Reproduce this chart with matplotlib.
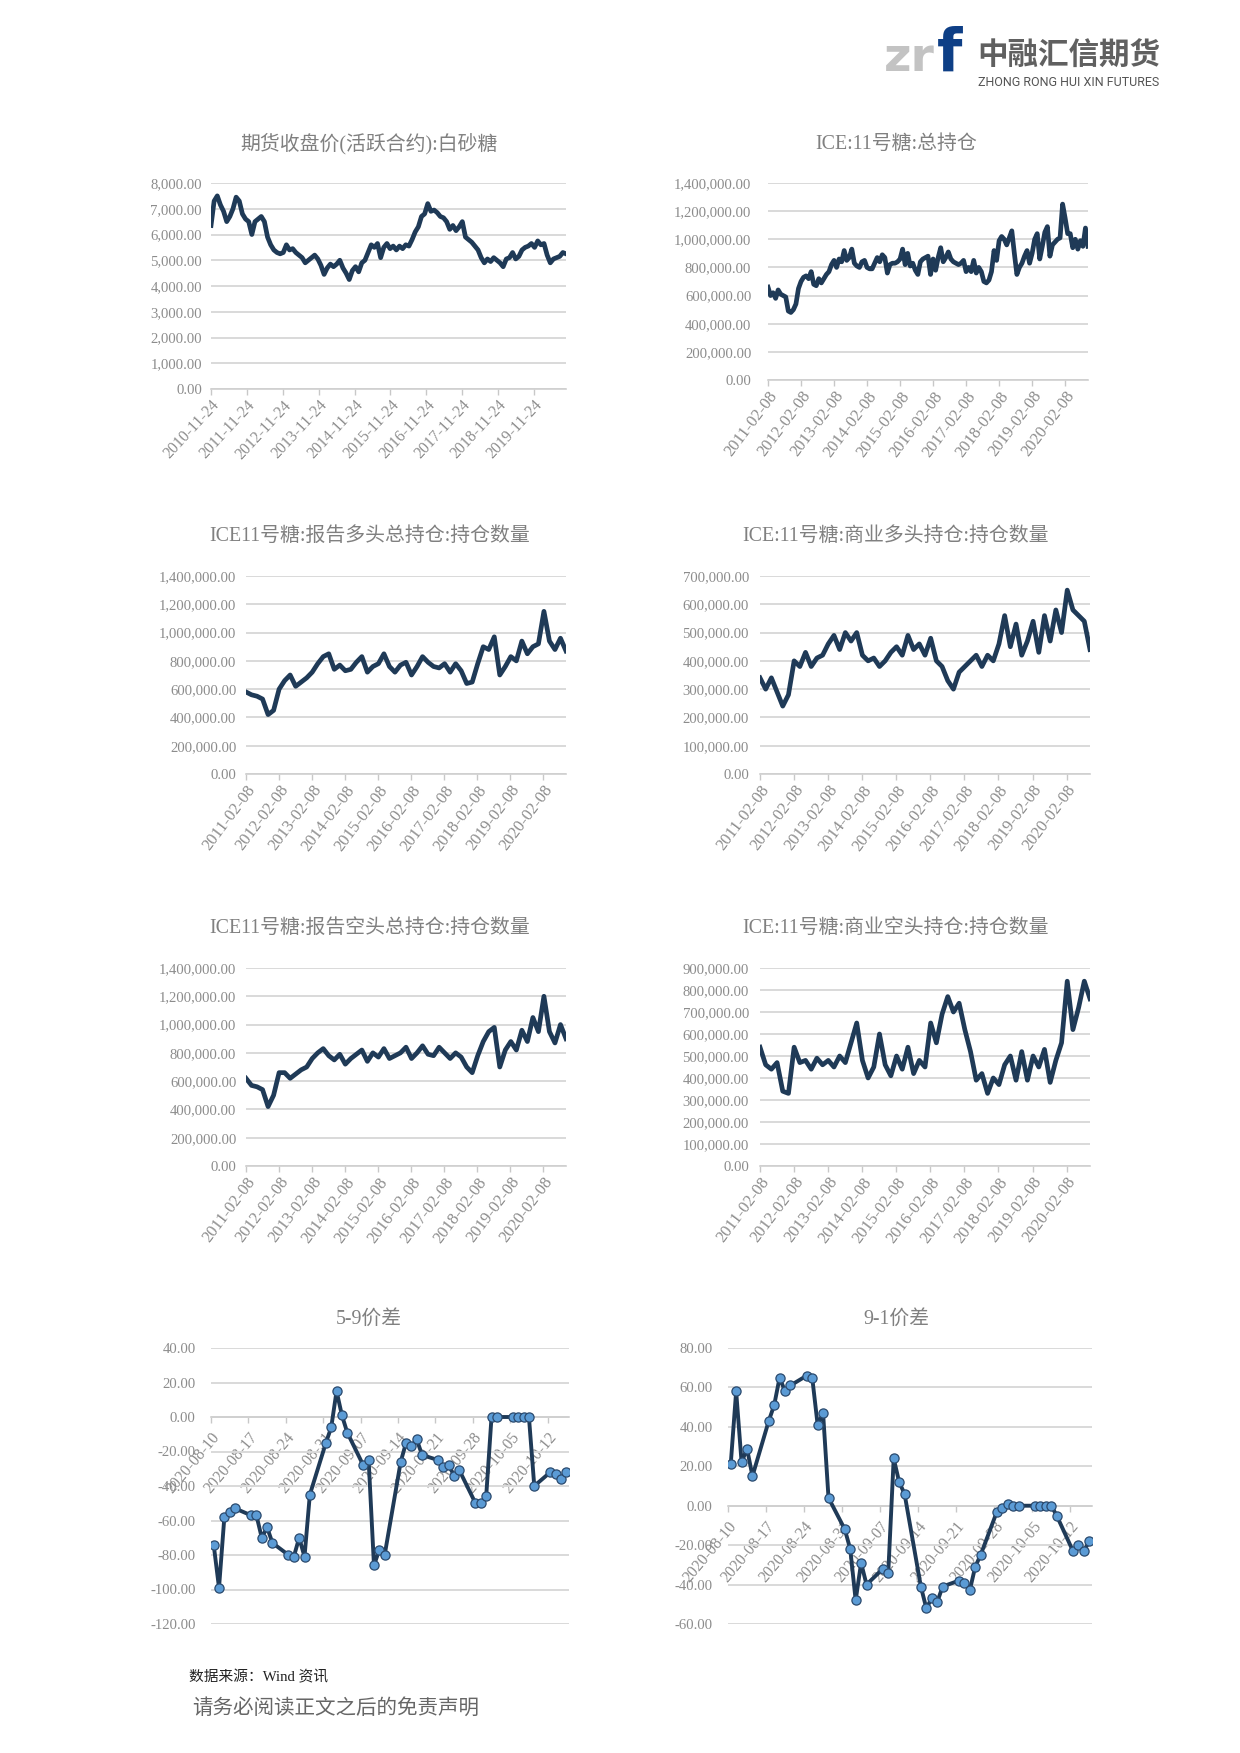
import numpy as np
import pandas as pd
import matplotlib
matplotlib.use("Agg")
import matplotlib.pyplot as plt

plt.rcParams['font.family'] = ['Liberation Serif', 'Noto Sans CJK SC', 'DejaVu Sans']

# ---------------- DATA ----------------
# 1. 期货收盘价(活跃合约):白砂糖 (yuan/ton), 2010-11-24 .. 2020-10
sugar_start, sugar_end = '2010-11-24', '2020-10-16'
sugar_price = [6350, 7300, 7500, 7150, 6900, 6500, 6700, 7000, 7450, 7300, 6800, 6600,
               6500, 6000, 6500, 6600, 6700, 6500, 5900, 5600, 5400, 5300, 5250, 5300,
               5600, 5400, 5450, 5300, 5200, 5100, 4900, 5000, 5100, 5200, 5050, 4800,
               4450, 4700, 4850, 4750, 4850, 5000, 4700, 4500, 4250, 4600, 4750, 4550,
               4900, 5000, 5300, 5600, 5500, 5650, 5100, 5500, 5650, 5450, 5550, 5400,
               5550, 5450, 5600, 5550, 5800, 6100, 6300, 6700, 6800, 7200, 6900, 6950,
               6850, 6700, 6650, 6500, 6200, 6350, 6150, 6300, 6500, 5900, 5800, 5700,
               5550, 5400, 5100, 4900, 5050, 4950, 5100, 5000, 4900, 4750, 5050, 5100,
               5300, 5050, 5150, 5400, 5500, 5550, 5650, 5500, 5750, 5600, 5650, 5200,
               4900, 5050, 5100, 5150, 5300, 5250]
sugar_ticks = ['2010-11-24', '2011-11-24', '2012-11-24', '2013-11-24', '2014-11-24',
               '2015-11-24', '2016-11-24', '2017-11-24', '2018-11-24', '2019-11-24']

# ICE series span
ice_start, ice_end = '2011-02-08', '2020-10-16'
ice_ticks = ['2011-02-08', '2012-02-08', '2013-02-08', '2014-02-08', '2015-02-08',
             '2016-02-08', '2017-02-08', '2018-02-08', '2019-02-08', '2020-02-08']

# 2. ICE:11号糖:总持仓 (thousand lots)
ice_total_oi_k = [660, 600, 620, 580, 640, 610, 600, 590, 490, 480, 500, 540,
                  650, 700, 730, 740, 720, 770, 680, 670, 720, 690, 720, 750,
                  770, 820, 850, 800, 860, 840, 920, 850, 870, 930, 830, 810,
                  800, 840, 850, 800, 790, 790, 830, 870, 840, 890, 870, 760,
                  820, 830, 830, 840, 860, 930, 820, 900, 810, 830, 780, 750,
                  840, 860, 870, 880, 750, 860, 780, 870, 940, 840, 870, 910,
                  860, 840, 830, 820, 830, 850, 770, 800, 770, 850, 760, 800,
                  770, 700, 690, 710, 770, 920, 850, 990, 1020, 1000, 960, 1010,
                  1060, 900, 750, 800, 830, 880, 920, 830, 900, 1000, 1040, 860,
                  950, 1050, 1090, 880, 960, 980, 1000, 1010, 1250, 1150, 1040, 1040,
                  940, 1000, 930, 990, 950, 1080, 950]

# 3. ICE11号糖:报告多头总持仓:持仓数量 (thousand lots)
rep_long_k = [580, 560, 550, 530, 420, 450, 600, 660, 700, 620, 650, 680,
              720, 780, 830, 850, 740, 770, 730, 740, 790, 830, 720, 760,
              780, 850, 760, 720, 770, 790, 700, 760, 830, 790, 760, 750,
              780, 720, 780, 730, 640, 650, 780, 900, 880, 970, 700, 760,
              830, 800, 940, 850, 900, 920, 1150, 940, 880, 960, 870]

# 4. ICE:11号糖:商业多头持仓:持仓数量 (thousand lots)
comm_long_k = [340, 300, 340, 290, 240, 280, 400, 380, 430, 380, 410, 420,
               460, 490, 440, 500, 470, 500, 420, 400, 410, 380, 400, 430,
               450, 420, 490, 440, 460, 420, 480, 400, 380, 330, 300, 360,
               380, 400, 420, 380, 420, 400, 460, 560, 450, 530, 420, 470,
               540, 430, 560, 470, 580, 500, 650, 580, 560, 540, 440]

# 5. ICE11号糖:报告空头总持仓:持仓数量 (thousand lots)
rep_short_k = [620, 570, 560, 540, 420, 500, 660, 660, 620, 650, 680, 700,
               760, 800, 830, 780, 750, 790, 720, 760, 790, 820, 740, 800,
               770, 830, 760, 780, 800, 840, 760, 800, 850, 790, 780, 840,
               800, 760, 800, 770, 700, 660, 780, 880, 950, 980, 700, 820,
               880, 820, 960, 880, 1050, 950, 1200, 950, 870, 1000, 900]

# 6. ICE:11号糖:商业空头持仓:持仓数量 (thousand lots)
comm_short_k = [540, 460, 440, 470, 340, 330, 540, 470, 480, 440, 490, 460,
                480, 450, 500, 470, 560, 650, 480, 400, 450, 600, 460, 410,
                500, 440, 540, 420, 480, 450, 650, 560, 690, 770, 700, 740,
                620, 520, 390, 420, 330, 400, 370, 460, 500, 390, 520, 390,
                500, 450, 530, 380, 480, 560, 840, 620, 720, 840, 760]

# 7/8. Daily spreads 2020-08-10 .. 2020-10-15 (trading days)
spread_start, spread_end = '2020-08-10', '2020-10-15'
spread_59 = [-74, -99, -58, -55, -53,
             -57, -57, -70, -64, -73,
             -80, -81, -70, -81, -45,
             -15, -6, 15, 1, -9,
             -28, -25, -86, -77, -80,
             -26, -15, -17, -13, -22,
             -25, -29, -28, -34, -31,
             -50, -50, -46, 0, 0,
             0, 0, 0, 0, -40,
             -32, -33, -36, -32]
spread_91 = [21, 58, 22, 29, 15,
             43, 51, 65, 58, 61,
             66, 65, 41, 47, 4,
             -12, -22, -48, -29, -40,
             -32, -34, 24, 12, 6,
             -41, -52, -47, -49, -41,
             -38, -39, -43, -31, -25,
             -3, -1, 1, 0, 0,
             0, 0, 0, 0, -5,
             -23, -20, -23, -18]
spread_ticks = ['2020-08-10', '2020-08-17', '2020-08-24', '2020-08-31', '2020-09-07',
                '2020-09-14', '2020-09-21', '2020-09-28', '2020-10-05', '2020-10-12']

# ---------------- STYLE ----------------
LINE = '#1f3a57'
MFACE = '#5b9bd5'
GRID = '#d9d9d9'
TXT = '#8c8c8c'
TITLE = '#808080'
W, H = 1240, 1753

fig = plt.figure(figsize=(W / 100, H / 100), dpi=100)


def rect(l, t, r, b):
    return [l / W, 1 - b / H, (r - l) / W, (b - t) / H]


def common(ax, ypad, xsize, xpad):
    ax.set_axisbelow(True)
    ax.grid(axis='y', color=GRID, lw=1.4)
    ax.grid(axis='x', visible=False)
    for s in ('left', 'top', 'right'):
        ax.spines[s].set_visible(False)
    ax.spines['bottom'].set_color('#cfcfcf')
    ax.spines['bottom'].set_linewidth(1.2)
    ax.tick_params(axis='y', length=0, pad=ypad, labelsize=10.6, labelcolor=TXT)
    ax.tick_params(axis='x', length=4, width=1, color='#c8c8c8', pad=xpad,
                   labelsize=xsize, labelcolor=TXT)
    ax.set_facecolor('none')


def ts_chart(r, start, end, values, ymax, ystep, ticks, ypad, rot, xsize):
    ax = fig.add_axes(rect(*r))
    dates = pd.date_range(start, end, periods=len(values))
    ax.plot(dates, values, color=LINE, lw=3.4, solid_joinstyle='round', zorder=3)
    ax.set_xlim(pd.Timestamp(start), pd.Timestamp(end))
    ax.set_ylim(0, ymax)
    yt = np.arange(0, ymax + 1, ystep)
    ax.set_yticks(yt)
    ax.set_yticklabels([f'{v:,.2f}' for v in yt])
    ax.set_xticks(pd.to_datetime(ticks))
    ax.set_xticklabels(ticks, rotation=rot, ha='right', va='top', rotation_mode='anchor')
    common(ax, ypad, xsize, 2)
    return ax


def spread_chart(r, values, ymin, ymax, ystep, ypad):
    ax = fig.add_axes(rect(*r))
    ax.spines['bottom'].set_position(('data', 0))
    days = pd.bdate_range(spread_start, spread_end) + pd.Timedelta(hours=12)
    ax.plot(days, values, color=LINE, lw=2.8, marker='o', ms=6.6,
            mfc=MFACE, mec='#2a4a6e', mew=0.9, zorder=3)
    ax.set_xlim(pd.Timestamp(spread_start), pd.Timestamp(spread_end) + pd.Timedelta(days=1))
    ax.set_ylim(ymin, ymax)
    yt = np.arange(ymin, ymax + 1, ystep)
    ax.set_yticks(yt)
    ax.set_yticklabels([f'{v:,.2f}' for v in yt])
    ax.set_xticks(pd.to_datetime(spread_ticks))
    ax.set_xticklabels(spread_ticks, rotation=50, ha='right', va='top', rotation_mode='anchor')
    common(ax, ypad, 11.3, 5)
    return ax


ts_chart((211, 183, 566, 389), sugar_start, sugar_end, sugar_price, 8000, 1000,
         sugar_ticks, 6.5, 47, 11.3)
ts_chart((768, 183, 1088, 380), ice_start, ice_end, np.array(ice_total_oi_k) * 1000,
         1400000, 200000, ice_ticks, 12, 53, 12)
ts_chart((246, 576, 566, 774), ice_start, ice_end, np.array(rep_long_k) * 1000,
         1400000, 200000, ice_ticks, 7, 53, 12)
ts_chart((760, 576, 1090, 774), ice_start, ice_end, np.array(comm_long_k) * 1000,
         700000, 100000, ice_ticks, 8, 53, 12)
ts_chart((246, 968, 566, 1166), ice_start, ice_end, np.array(rep_short_k) * 1000,
         1400000, 200000, ice_ticks, 7, 53, 12)
ts_chart((760, 968, 1090, 1166), ice_start, ice_end, np.array(comm_short_k) * 1000,
         900000, 100000, ice_ticks, 8, 53, 12)
spread_chart((211, 1348, 569, 1624), spread_59, -120, 40, 20, 11)
spread_chart((728, 1348, 1092, 1624), spread_91, -60, 80, 20, 11)

titles = [(369, 144, '期货收盘价(活跃合约):白砂糖'),
          (896, 144, 'ICE:11号糖:总持仓'),
          (370, 536, 'ICE11号糖:报告多头总持仓:持仓数量'),
          (896, 536, 'ICE:11号糖:商业多头持仓:持仓数量'),
          (370, 928, 'ICE11号糖:报告空头总持仓:持仓数量'),
          (896, 928, 'ICE:11号糖:商业空头持仓:持仓数量'),
          (369, 1319, '5-9价差'),
          (896, 1319, '9-1价差')]
for x, y, t in titles:
    fig.text(x / W, 1 - y / H, t, ha='center', va='center', fontsize=14.3, color=TITLE)

# Logo
fig.text(884 / W, 1 - 71 / H, 'zr', fontsize=34, fontweight='bold', color='#c3c3c3',
         family='DejaVu Sans', ha='left', va='baseline')
fig.text(937 / W, 1 - 71 / H, 'f', fontsize=42, fontweight='bold', color='#0e3f86',
         family='DejaVu Sans', ha='left', va='baseline')
fig.text(977 / W, 1 - 56 / H, '中融汇信期货', fontsize=22, fontweight='bold',
         color='#606060', family='Noto Sans CJK SC', ha='left', va='center')
fig.text(978 / W, 1 - 83 / H, 'ZHONG RONG HUI XIN FUTURES', fontsize=9,
         color='#555555', family='Roboto', ha='left', va='center')

# Footer
fig.text(189 / W, 1 - 1677 / H, '数据来源：Wind 资讯', fontsize=10.6, color='#222222',
         ha='left', va='center')
fig.text(192 / W, 1 - 1708 / H, '请务必阅读正文之后的免责声明', fontsize=14.8,
         color='#666666', family='Noto Sans CJK SC', ha='left', va='center')

fig.savefig('out.png', dpi=100, facecolor='white')
